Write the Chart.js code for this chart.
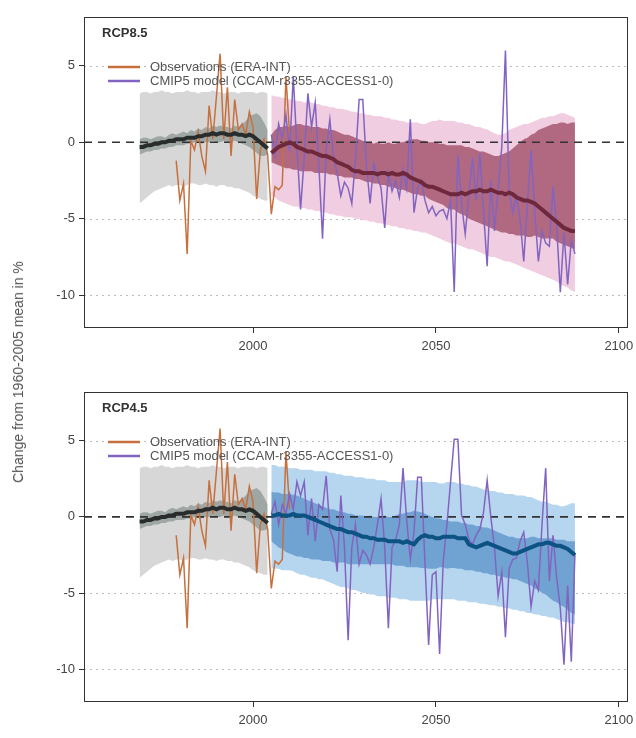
<!DOCTYPE html>
<html>
<head>
<meta charset="utf-8">
<script src="https://cdn.jsdelivr.net/npm/chart.js@4.4.1/dist/chart.umd.min.js"></script>
<style>
  html, body { margin: 0; padding: 0; background: #fff; }
  #wrap { position: relative; width: 636px; height: 738px; font-family: "Liberation Sans", Arial, sans-serif; }
  .panel { position: absolute; left: 0; width: 636px; height: 369px; }
  #ylab { position: absolute; left: 18px; top: 372px; transform: translate(-50%, -50%) rotate(-90deg);
          white-space: nowrap; font-size: 14px; color: #555; }
</style>
</head>
<body>
<div id="wrap">
  <div class="panel" style="top:0"><canvas id="c85" width="636" height="369"></canvas></div>
  <div class="panel" style="top:369px"><canvas id="c45" width="636" height="369"></canvas></div>
  <div id="ylab">Change from 1960-2005 mean in %</div>
</div>
<script>
// axis setup
const X_MIN = 1953.8, X_MAX = 2102.5;
const Y_MIN = -12.15, Y_MAX = 8.2;
const xTicks = [2000, 2050, 2100];
const yTicks = [-10, -5, 0, 5];

const legendLabels = ['Observations (ERA-INT)', 'CMIP5 model (CCAM-r3355-ACCESS1-0)'];

// historical ensemble, annual from 1969 to 2004
const HIST_START = 1969;
const histMean = [-0.3, -0.3, -0.2, -0.2, -0.1, -0.1, 0.0, 0.0, 0.1, 0.1,
  0.2, 0.2, 0.2, 0.3, 0.3, 0.3, 0.4, 0.4, 0.5, 0.5,
  0.6, 0.5, 0.6, 0.6, 0.5, 0.5, 0.6, 0.5, 0.5, 0.4,
  0.5, 0.4, 0.2, 0.0, -0.2, -0.4];
const histInnerHi = [0.2, 0.3, 0.3, 0.2, 0.3, 0.4, 0.4, 0.3, 0.5, 0.6,
  0.5, 0.6, 0.7, 0.6, 0.8, 0.7, 0.9, 0.8, 1.0, 0.9,
  1.1, 1.0, 1.1, 1.0, 1.0, 0.9, 1.1, 1.0, 1.2, 1.4,
  1.7, 1.8, 1.9, 1.7, 1.3, 0.8];
const histInnerLo = [-0.8, -0.7, -0.6, -0.6, -0.5, -0.5, -0.4, -0.4, -0.3, -0.3,
  -0.2, -0.2, -0.2, -0.1, -0.1, 0.0, 0.0, -0.1, 0.0, 0.0,
  0.1, 0.0, 0.0, 0.1, 0.0, 0.0, 0.1, 0.0, -0.1, -0.2,
  -0.3, -0.5, -0.7, -0.9, -0.9, -0.8];
const histOuterHi = [3.2, 3.3, 3.3, 3.2, 3.3, 3.3, 3.4, 3.3, 3.3, 3.2,
  3.3, 3.3, 3.3, 3.4, 3.3, 3.3, 3.2, 3.3, 3.3, 3.3,
  3.4, 3.3, 3.3, 3.2, 3.3, 3.3, 3.3, 3.2, 3.3, 3.3,
  3.3, 3.3, 3.2, 3.3, 3.3, 3.2];
const histOuterLo = [-4.0, -3.8, -3.6, -3.4, -3.2, -3.1, -3.0, -2.9, -2.8, -2.9,
  -2.8, -2.8, -2.9, -2.8, -2.7, -2.7, -2.8, -2.8, -2.7, -2.8,
  -2.8, -2.9, -2.8, -2.8, -2.9, -2.9, -3.0, -3.0, -3.1, -3.2,
  -3.3, -3.5, -3.6, -3.7, -3.8, -3.8];

// observations (ERA-INT), annual from 1979 to 2010
const OBS_START = 1979;
const obsValues = [-1.2, -3.8, -2.7, -7.3, 0.1, -0.5, 0.7, -0.9, -1.9, 2.4,
  0.2, 3.0, 5.8, 0.2, 3.6, -0.9, 2.8, 0.8, 1.2, 0.5,
  2.0, 1.0, -3.7, -0.5, 0.2, -0.8, -4.7, -2.9, -3.1, -2.8,
  4.3, 0.5];

// projections, annual from 2005 to 2088
const FUT_START = 2005;

const r85Mean = [-0.7, -0.5, -0.3, -0.2, -0.1, 0.0, -0.1, -0.3, -0.4, -0.5,
  -0.6, -0.6, -0.7, -0.8, -0.9, -0.9, -1.0, -1.1, -1.3, -1.4,
  -1.5, -1.6, -1.8, -1.9, -1.9, -2.0, -2.0, -2.0, -2.0, -2.1,
  -2.0, -2.0, -2.1, -2.0, -2.1, -2.1, -2.0, -2.1, -2.3, -2.4,
  -2.5, -2.6, -2.8, -2.9, -2.9, -3.0, -3.1, -3.2, -3.3, -3.4,
  -3.4, -3.4, -3.3, -3.4, -3.3, -3.2, -3.2, -3.1, -3.2, -3.2,
  -3.1, -3.2, -3.3, -3.3, -3.4, -3.3, -3.4, -3.6, -3.7, -3.8,
  -3.8, -3.9, -4.0, -4.2, -4.4, -4.6, -4.8, -5.0, -5.2, -5.4,
  -5.6, -5.7, -5.8, -5.8];
const r85InnerHi = [0.5, 0.8, 1.0, 1.0, 1.1, 1.0, 1.1, 1.2, 1.2, 1.1,
  1.1, 1.0, 1.0, 1.0, 0.9, 0.9, 0.8, 0.8, 0.7, 0.6,
  0.5, 0.5, 0.4, 0.3, 0.2, 0.1, 0.0, 0.0, -0.1, 0.0,
  -0.1, -0.1, 0.0, -0.1, -0.1, 0.0, 0.0, 0.1, 0.2, 0.2,
  0.2, 0.1, 0.1, 0.0, 0.0, 0.0, -0.1, -0.1, -0.2, -0.2,
  -0.2, -0.2, -0.2, -0.3, -0.3, -0.4, -0.5, -0.6, -0.6, -0.7,
  -0.8, -0.9, -0.9, -0.8, -0.7, -0.6, -0.4, -0.2, 0.0, 0.2,
  0.3, 0.5, 0.6, 0.8, 0.9, 1.0, 1.1, 1.2, 1.2, 1.3,
  1.3, 1.2, 1.3, 1.3];
const r85InnerLo = [-1.3, -1.4, -1.5, -1.6, -1.7, -1.7, -1.8, -1.8, -1.9, -1.9,
  -1.9, -1.9, -2.0, -2.0, -2.0, -2.0, -2.1, -2.1, -2.2, -2.2,
  -2.3, -2.3, -2.3, -2.4, -2.4, -2.5, -2.6, -2.6, -2.7, -2.7,
  -2.8, -2.8, -2.9, -2.9, -3.0, -3.1, -3.1, -3.2, -3.3, -3.4,
  -3.4, -3.5, -3.5, -3.7, -3.8, -3.9, -4.0, -4.1, -4.3, -4.4,
  -4.4, -4.6, -4.7, -4.8, -5.0, -5.1, -5.2, -5.3, -5.4, -5.5,
  -5.6, -5.7, -5.8, -5.9, -5.9, -6.0, -6.0, -6.1, -6.1, -6.1,
  -6.2, -6.2, -6.1, -6.2, -6.3, -6.3, -6.3, -6.3, -6.5, -6.6,
  -6.7, -6.8, -6.9, -7.0];
const r85OuterHi = [3.1, 3.0, 3.0, 2.9, 2.9, 2.8, 2.8, 2.7, 2.7, 2.6,
  2.6, 2.6, 2.5, 2.5, 2.4, 2.4, 2.3, 2.3, 2.2, 2.2,
  2.15, 2.1, 2.0, 2.0, 1.9, 1.9, 1.8, 1.8, 1.7, 1.7,
  1.7, 1.6, 1.6, 1.5, 1.5, 1.4, 1.4, 1.3, 1.3, 1.3,
  1.3, 1.2, 1.2, 1.3, 1.4, 1.4, 1.5, 1.4, 1.4, 1.4,
  1.4, 1.3, 1.3, 1.2, 1.2, 1.1, 1.0, 1.0, 0.9, 0.85,
  0.7, 0.6, 0.5, 0.5, 0.6, 0.8, 0.9, 1.0, 1.1, 1.2,
  1.2, 1.3, 1.4, 1.5, 1.6, 1.6, 1.7, 1.7, 1.8, 1.9,
  1.9, 1.8, 1.7, 1.6];
const r85OuterLo = [-3.5, -3.6, -3.8, -3.9, -4.0, -4.1, -4.2, -4.2, -4.3, -4.3,
  -4.4, -4.4, -4.5, -4.5, -4.6, -4.6, -4.7, -4.7, -4.8, -4.8,
  -4.9, -4.9, -4.9, -5.0, -5.0, -5.1, -5.1, -5.2, -5.2, -5.3,
  -5.3, -5.4, -5.4, -5.5, -5.5, -5.6, -5.6, -5.7, -5.7, -5.8,
  -5.8, -5.9, -5.9, -6.0, -6.1, -6.2, -6.3, -6.4, -6.5, -6.6,
  -6.6, -6.7, -6.8, -6.9, -7.0, -7.0, -7.1, -7.2, -7.3, -7.4,
  -7.5, -7.5, -7.6, -7.7, -7.8, -7.8, -7.9, -8.0, -8.1, -8.2,
  -8.3, -8.4, -8.5, -8.6, -8.7, -8.8, -8.9, -9.0, -9.1, -9.3,
  -9.4, -9.5, -9.7, -9.8];
const r85Model = [0.5, -0.8, 1.2, 0.2, 1.8, -0.6, 4.3, -0.3, -4.4, -1.0,
  3.2, 1.0, 2.6, -1.5, -6.3, -0.5, 1.5, -1.0, -2.0, -3.5,
  -2.6, -3.0, -4.0, -1.2, 2.8, 2.8, -1.5, -4.0, -1.4, -2.2,
  -3.0, -5.6, -2.0, -3.2, -2.5, -3.6, -1.8, -3.0, 1.5, -4.6,
  -3.0, -2.5, -3.8, -4.6, -4.2, -4.8, -4.5, -4.4, -5.0, -3.8,
  -9.8, -0.8, -4.0, -6.0, -3.5, -1.0, -3.8, -0.7, -4.5, -8.1,
  -2.5, -5.8, -3.0, -0.3, 6.0, -3.1, -4.6, -3.5, -5.0, -7.8,
  -4.0, -0.5, -4.5, -7.8, -5.8, -6.6, -6.8, -2.9, -5.5, -9.8,
  -5.9, -9.3, -6.4, -7.3];

const r45Mean = [0.1, 0.1, 0.2, 0.1, 0.1, 0.1, 0.2, 0.1, 0.1, 0.1,
  0.0, -0.1, -0.2, -0.3, -0.4, -0.5, -0.6, -0.7, -0.8, -0.8,
  -0.9, -1.0, -1.0, -1.1, -1.2, -1.3, -1.3, -1.4, -1.4, -1.5,
  -1.5, -1.5, -1.6, -1.6, -1.6, -1.6, -1.7, -1.6, -1.7, -1.8,
  -1.5, -1.3, -1.2, -1.3, -1.3, -1.4, -1.4, -1.3, -1.3, -1.3,
  -1.3, -1.4, -1.4, -1.4, -1.8, -1.9, -2.0, -1.9, -1.8, -1.7,
  -1.8, -1.9, -2.0, -2.1, -2.2, -2.3, -2.4, -2.4, -2.3, -2.2,
  -2.1, -2.0, -1.9, -1.8, -1.8, -1.7, -1.7, -1.8, -1.9, -1.9,
  -2.0, -2.1, -2.3, -2.5];
const r45InnerHi = [1.65, 1.6, 1.6, 1.5, 1.5, 1.5, 1.45, 1.4, 1.3, 1.2,
  1.1, 1.0, 0.9, 0.8, 0.7, 0.6, 0.5, 0.5, 0.4, 0.3,
  0.3, 0.2, 0.2, 0.1, 0.1, 0.1, 0.0, 0.1, 0.0, 0.0,
  0.0, 0.1, 0.0, 0.0, 0.1, 0.2, 0.2, 0.3, 0.3, 0.4,
  0.35, 0.3, 0.2, 0.1, 0.0, -0.1, -0.1, -0.2, -0.2, -0.3,
  -0.3, -0.3, -0.4, -0.4, -0.5, -0.5, -0.6, -0.6, -0.7, -0.7,
  -0.8, -0.9, -1.0, -1.1, -1.2, -1.3, -1.3, -1.4, -1.4, -1.4,
  -1.4, -1.3, -1.3, -1.4, -1.4, -1.4, -1.4, -1.4, -1.5, -1.5,
  -1.5, -1.6, -1.6, -1.6];
const r45InnerLo = [-1.6, -1.8, -2.0, -2.1, -2.3, -2.4, -2.5, -2.6, -2.6, -2.7,
  -2.7, -2.8, -2.8, -2.8, -2.9, -2.9, -2.9, -3.0, -3.0, -3.0,
  -3.0, -3.1, -3.1, -3.1, -3.1, -3.1, -3.1, -3.1, -3.1, -3.1,
  -3.1, -3.1, -3.1, -3.1, -3.2, -3.2, -3.2, -3.3, -3.3, -3.3,
  -3.3, -3.35, -3.35, -3.4, -3.4, -3.4, -3.3, -3.3, -3.4, -3.35,
  -3.35, -3.4, -3.4, -3.5, -3.5, -3.5, -3.6, -3.6, -3.7, -3.7,
  -3.8, -3.8, -3.9, -3.9, -4.0, -4.0, -4.1, -4.1, -4.2, -4.3,
  -4.4, -4.5, -4.7, -4.8, -5.0, -5.1, -5.3, -5.5, -5.6, -5.8,
  -5.9, -6.1, -6.3, -6.4];
const r45OuterHi = [3.4, 3.4, 3.3, 3.3, 3.3, 3.2, 3.2, 3.2, 3.1, 3.1,
  3.1, 3.1, 3.0, 3.0, 3.0, 3.0, 2.9, 2.9, 2.8, 2.8,
  2.7, 2.7, 2.7, 2.6, 2.6, 2.6, 2.5, 2.5, 2.5, 2.4,
  2.4, 2.4, 2.3, 2.3, 2.3, 2.3, 2.3, 2.4, 2.4, 2.4,
  2.4, 2.3, 2.3, 2.3, 2.3, 2.3, 2.2, 2.2, 2.3, 2.3,
  2.3, 2.2, 2.2, 2.1, 2.1, 2.0, 2.0, 1.9, 1.8, 1.76,
  1.7, 1.7, 1.6, 1.6, 1.5, 1.5, 1.5, 1.4, 1.4, 1.4,
  1.3, 1.3, 1.2, 1.1, 1.0, 1.0, 0.9, 0.8, 0.8, 0.7,
  0.7, 0.8, 0.9, 0.9];
const r45OuterLo = [-3.35, -3.4, -3.4, -3.5, -3.5, -3.5, -3.57, -3.7, -3.8, -3.8,
  -3.9, -4.0, -4.0, -4.1, -4.1, -4.2, -4.3, -4.4, -4.5, -4.6,
  -4.6, -4.7, -4.8, -4.8, -4.9, -5.0, -5.0, -5.1, -5.1, -5.2,
  -5.2, -5.2, -5.3, -5.3, -5.3, -5.4, -5.4, -5.4, -5.5, -5.5,
  -5.5, -5.5, -5.5, -5.5, -5.4, -5.4, -5.4, -5.4, -5.4, -5.4,
  -5.4, -5.5, -5.5, -5.5, -5.6, -5.6, -5.6, -5.7, -5.7, -5.75,
  -5.8, -5.8, -5.9, -5.9, -6.0, -6.0, -6.1, -6.1, -6.2, -6.2,
  -6.3, -6.3, -6.4, -6.4, -6.5, -6.5, -6.6, -6.6, -6.7, -6.8,
  -6.9, -6.9, -7.0, -7.05];
const r45Model = [0.2, 1.0, -0.5, 0.8, 0.2, 1.5, 0.5, 2.3, 1.4, 2.3,
  -1.2, 1.2, -1.6, 0.8, 0.5, 2.7, -0.8, -1.5, -3.6, 1.4,
  -2.0, -8.1, -2.0, -0.5, -3.1, -2.2, -2.5, -3.1, -2.0, -0.5,
  1.2, -2.0, -7.3, -2.0, -1.5, -0.5, 3.2, -0.2, -2.8, -1.0,
  2.6, 2.6, -3.0, -8.4, -3.8, -3.6, -9.0, -2.9, -0.5, 2.3,
  5.1, 5.1, 0.1, -0.5, -1.5, -1.8, -1.2, -0.8, 0.3, 2.4,
  0.0, -2.0, -5.2, -3.6, -7.9, -3.4, -2.8, -2.7, -1.6, -1.0,
  -3.0, -5.9, -4.2, -4.8, -0.5, 3.2, -4.2, -1.2, -4.0, -6.0,
  -9.7, -4.5, -9.5, -2.4];

const FONT = '"Liberation Sans", Arial, sans-serif';
const OBS_COLOR = 'rgb(198, 112, 62)';
const MODEL_COLOR = 'rgb(130, 100, 192)';

function pts(start, vals) {
  return vals.map((v, i) => ({ x: start + i, y: v }));
}

function band(start, vals, color, order, fill) {
  return { data: pts(start, vals), backgroundColor: color, borderWidth: 0, pointRadius: 0,
           fill: fill ? '+1' : false, order: order };
}

function line(start, vals, color, width, order) {
  return { data: pts(start, vals), borderColor: color, borderWidth: width, pointRadius: 0,
           fill: false, order: order, tension: 0 };
}

// dotted grid, frame, panel label and legend
const decor = {
  id: 'decor',
  beforeDatasetsDraw(chart) {
    const { ctx, chartArea: a, scales: { y } } = chart;
    ctx.save();
    ctx.strokeStyle = '#bdbdbd';
    ctx.lineWidth = 1;
    ctx.setLineDash([2, 4]);
    yTicks.filter(v => v !== 0).forEach(v => {
      const py = Math.round(y.getPixelForValue(v)) + 0.5;
      ctx.beginPath(); ctx.moveTo(a.left, py); ctx.lineTo(a.right, py); ctx.stroke();
    });
    ctx.restore();
  },
  afterDraw(chart, args, opts) {
    const { ctx, chartArea: a } = chart;
    ctx.save();
    ctx.strokeStyle = '#333';
    ctx.lineWidth = 1;
    ctx.strokeRect(a.left + 0.5, a.top + 0.5, a.right - a.left - 1, a.bottom - a.top - 1);

    ctx.fillStyle = '#333';
    ctx.font = 'bold 13px ' + FONT;
    ctx.textBaseline = 'middle';
    ctx.fillText(opts.label, a.left + 18, a.top + 16);

    ctx.font = '13px ' + FONT;
    [OBS_COLOR, MODEL_COLOR].forEach((c, i) => {
      const ly = a.top + 50 + i * 14;
      ctx.strokeStyle = c;
      ctx.lineWidth = 2.5;
      ctx.beginPath(); ctx.moveTo(a.left + 24, ly); ctx.lineTo(a.left + 56, ly); ctx.stroke();
      ctx.fillStyle = '#555';
      ctx.fillText(legendLabels[i], a.left + 66, ly);
    });
    ctx.restore();
  }
};

function makePanel(id, label, fut, colors, areaTop, axisH) {
  const datasets = [
    band(HIST_START, histOuterHi, 'rgb(215, 215, 215)', 10, true),
    band(HIST_START, histOuterLo, 'rgb(215, 215, 215)', 10, false),
    band(FUT_START, fut.outerHi, colors.outer, 9, true),
    band(FUT_START, fut.outerLo, colors.outer, 9, false),
    band(HIST_START, histInnerHi, 'rgba(120, 135, 130, 0.6)', 8, true),
    band(HIST_START, histInnerLo, 'rgba(120, 135, 130, 0.6)', 8, false),
    band(FUT_START, fut.innerHi, colors.inner, 7, true),
    band(FUT_START, fut.innerLo, colors.inner, 7, false),
    { data: [{ x: X_MIN, y: 0 }, { x: X_MAX, y: 0 }], borderColor: '#333', borderWidth: 1.6,
      borderDash: [8, 6], pointRadius: 0, fill: false, order: 6 },
    line(OBS_START, obsValues, OBS_COLOR, 1.5, 4),
    line(FUT_START, fut.model, MODEL_COLOR, 1.5, 3),
    line(HIST_START, histMean, 'rgb(40, 44, 44)', 4, 2),
    line(FUT_START, fut.mean, colors.mean, 4, 1)
  ];

  new Chart(document.getElementById(id), {
    type: 'line',
    data: { datasets: datasets },
    plugins: [decor],
    options: {
      responsive: false,
      animation: false,
      events: [],
      layout: { padding: { top: areaTop, right: 8, left: 0, bottom: 0 } },
      plugins: {
        legend: { display: false },
        tooltip: { enabled: false },
        decor: { label: label }
      },
      scales: {
        x: {
          type: 'linear', min: X_MIN, max: X_MAX,
          afterBuildTicks: s => { s.ticks = xTicks.map(v => ({ value: v })); },
          afterFit: s => { s.height = axisH; s.paddingLeft = 0; s.paddingRight = 0; },
          border: { display: false },
          grid: { drawOnChartArea: false, drawTicks: true, tickLength: 5, tickColor: '#333', tickWidth: 1 },
          ticks: { padding: 6, color: '#444', font: { size: 13, family: FONT }, maxRotation: 0,
                   autoSkip: false, callback: v => String(v) }
        },
        y: {
          type: 'linear', min: Y_MIN, max: Y_MAX,
          afterBuildTicks: s => { s.ticks = yTicks.map(v => ({ value: v })); },
          afterFit: s => { s.width = 84; s.paddingTop = 0; s.paddingBottom = 0; },
          border: { display: false },
          grid: { drawOnChartArea: false, drawTicks: true, tickLength: 5, tickColor: '#333', tickWidth: 1 },
          ticks: { padding: 4, color: '#444', font: { size: 13, family: FONT }, callback: v => String(v) }
        }
      }
    }
  });
}

makePanel('c85', 'RCP8.5',
  { mean: r85Mean, innerHi: r85InnerHi, innerLo: r85InnerLo, outerHi: r85OuterHi, outerLo: r85OuterLo, model: r85Model },
  { outer: 'rgb(240, 205, 224)', inner: 'rgba(160, 80, 105, 0.8)', mean: 'rgb(110, 40, 60)' },
  17, 41);

makePanel('c45', 'RCP4.5',
  { mean: r45Mean, innerHi: r45InnerHi, innerLo: r45InnerLo, outerHi: r45OuterHi, outerLo: r45OuterLo, model: r45Model },
  { outer: 'rgb(182, 214, 240)', inner: 'rgba(90, 145, 200, 0.75)', mean: 'rgb(12, 82, 130)' },
  23, 36);
</script>
</body>
</html>
